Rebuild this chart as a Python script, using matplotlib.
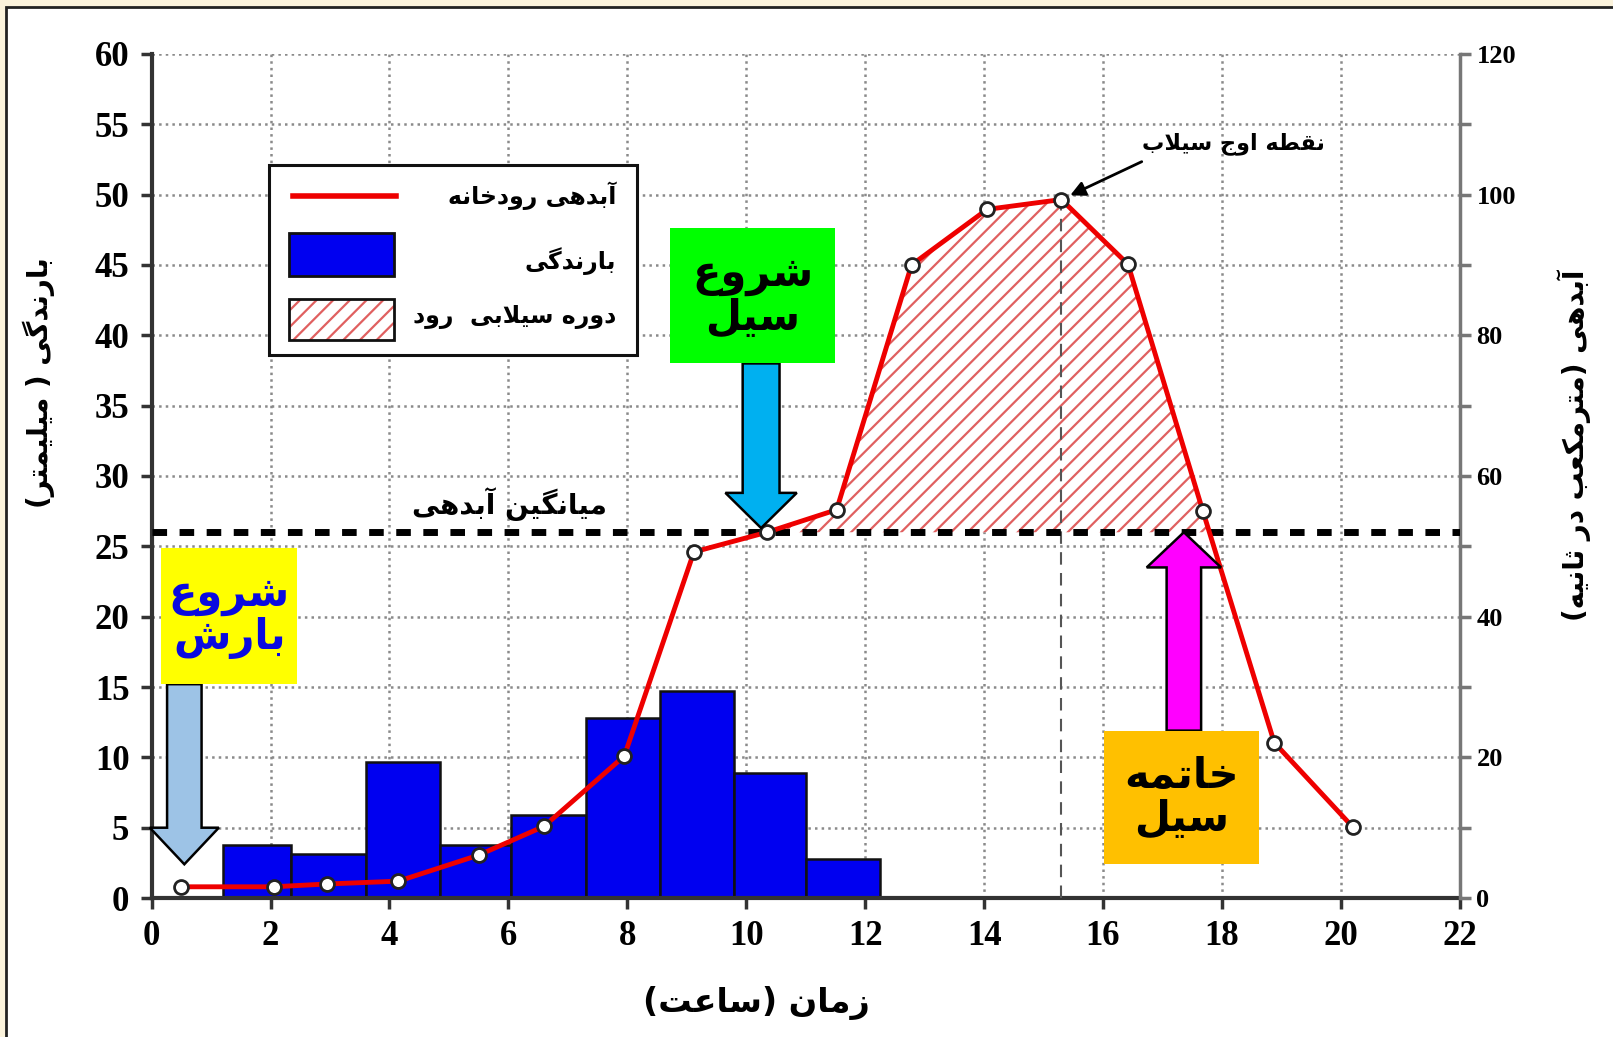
import numpy as np
import matplotlib
matplotlib.use('Agg')
from matplotlib import pyplot as plt
from matplotlib.patches import Rectangle, Polygon
from matplotlib.lines import Line2D

# بارندگی (میلیمتر) - لبه های ستون ها بر حسب ساعت
rain_edges = [1.2, 2.35, 3.6, 4.85, 6.05, 7.3, 8.55, 9.8, 11.0, 12.25]
rain_mm = [3.8, 3.1, 9.7, 3.8, 5.9, 12.8, 14.7, 8.9, 2.8]

# آبدهی رودخانه (مترمکعب در ثانیه)
flow_t = [0.5, 2.05, 2.95, 4.15, 5.5, 6.6, 7.95, 9.12, 10.35, 11.52,
          12.78, 14.05, 15.3, 16.42, 17.68, 18.88, 20.2]
flow_q = [1.6, 1.6, 2.0, 2.4, 6.1, 10.2, 20.2, 49.2, 52.0, 55.2,
          90.0, 97.9, 99.3, 90.1, 55.0, 22.1, 10.1]
mean_q = 52

x_ticks = list(range(0, 23, 2))
rain_ticks = list(range(0, 61, 5))
flow_ticks = list(range(0, 121, 20))

# --- شکل دهی ساده حروف فارسی (matplotlib خودش این کار را نمی کند) ---
FORMS = {
    'ا': ('\uFE8D', '\uFE8E'), 'آ': ('\uFE81', '\uFE82'),
    'د': ('\uFEA9', '\uFEAA'), 'ر': ('\uFEAD', '\uFEAE'),
    'ز': ('\uFEAF', '\uFEB0'), 'و': ('\uFEED', '\uFEEE'),
    'لا': ('\uFEFB', '\uFEFC'),
    'ب': ('\uFE8F', '\uFE90', '\uFE91', '\uFE92'),
    'پ': ('\uFB56', '\uFB57', '\uFB58', '\uFB59'),
    'ت': ('\uFE95', '\uFE96', '\uFE97', '\uFE98'),
    'ث': ('\uFE99', '\uFE9A', '\uFE9B', '\uFE9C'),
    'ج': ('\uFE9D', '\uFE9E', '\uFE9F', '\uFEA0'),
    'خ': ('\uFEA5', '\uFEA6', '\uFEA7', '\uFEA8'),
    'س': ('\uFEB1', '\uFEB2', '\uFEB3', '\uFEB4'),
    'ش': ('\uFEB5', '\uFEB6', '\uFEB7', '\uFEB8'),
    'ط': ('\uFEC1', '\uFEC2', '\uFEC3', '\uFEC4'),
    'ع': ('\uFEC9', '\uFECA', '\uFECB', '\uFECC'),
    'ق': ('\uFED5', '\uFED6', '\uFED7', '\uFED8'),
    'ک': ('\uFB8E', '\uFB8F', '\uFB90', '\uFB91'),
    'گ': ('\uFB92', '\uFB93', '\uFB94', '\uFB95'),
    'ل': ('\uFEDD', '\uFEDE', '\uFEDF', '\uFEE0'),
    'م': ('\uFEE1', '\uFEE2', '\uFEE3', '\uFEE4'),
    'ن': ('\uFEE5', '\uFEE6', '\uFEE7', '\uFEE8'),
    'ه': ('\uFEE9', '\uFEEA', '\uFEEB', '\uFEEC'),
    'ی': ('\uFBFC', '\uFBFD', '\uFBFE', '\uFBFF'),
}
MIRROR = {'(': ')', ')': '('}


def fa(text):
    lines = []
    for line in text.split('\n'):
        toks = []
        i = 0
        while i < len(line):
            if line[i] == 'ل' and i + 1 < len(line) and line[i + 1] == 'ا':
                toks.append('لا')
                i += 2
            else:
                toks.append(line[i])
                i += 1
        out = []
        for k, t in enumerate(toks):
            f = FORMS.get(t)
            if f is None:
                out.append(MIRROR.get(t, t))
                continue
            prev = FORMS.get(toks[k - 1]) if k > 0 else None
            nxt = FORMS.get(toks[k + 1]) if k + 1 < len(toks) else None
            jp = prev is not None and len(prev) == 4
            jn = len(f) == 4 and nxt is not None
            if jp and jn:
                out.append(f[3])
            elif jp:
                out.append(f[1])
            elif jn:
                out.append(f[2])
            else:
                out.append(f[0])
        lines.append(''.join(out[::-1]))
    return '\n'.join(lines)


AR = ['DejaVu Sans']
plt.rcParams['font.family'] = ['Liberation Serif', 'DejaVu Sans']
plt.rcParams['font.weight'] = 'bold'
plt.rcParams['hatch.linewidth'] = 1.6

fig = plt.figure(figsize=(16.13, 10.37), dpi=100)
fig.patch.set_facecolor('#FBF3DC')
fig.add_artist(Rectangle((0.0035, -0.05), 1.1, 1.043, transform=fig.transFigure,
                         facecolor='white', edgecolor='#222222', lw=2, zorder=-10))

ax = fig.add_axes([0.094, 0.134, 0.811, 0.814])
ax2 = ax.twinx()

# ستون های بارندگی
ax.bar(rain_edges[:-1], rain_mm, width=np.diff(rain_edges), align='edge',
       color='#0000F0', edgecolor='#111111', lw=1.8, zorder=2)

ax.set_xlim(0, 22)
ax.set_ylim(0, 60)
ax.set_xticks(x_ticks)
ax.set_yticks(rain_ticks)
ax.set_axisbelow(True)
ax.grid(True, ls=':', color='#8a8a8a', lw=1.8)
ax.tick_params(axis='both', direction='out', length=8, width=2.5, color='#333333',
               labelsize=25, pad=8)
for s in ['top', 'right']:
    ax.spines[s].set_visible(False)
for s in ['left', 'bottom']:
    ax.spines[s].set_color('#333333')
    ax.spines[s].set_linewidth(3)

# هیدروگراف
q = np.array(flow_q)
ax2.fill_between(flow_t, flow_q, mean_q, where=q >= mean_q, interpolate=True,
                 facecolor='white', edgecolor='#E06060', hatch='//', lw=0, zorder=1)
ipk = int(np.argmax(q))
ax2.vlines(flow_t[ipk], 0, flow_q[ipk], colors='#555555', linestyles=(0, (6, 4)),
           lw=1.5, zorder=2)
ax2.axhline(mean_q, color='black', ls=(0, (2.1, 1.8)), lw=5, zorder=3)
ax2.plot(flow_t, flow_q, color='#EE0000', lw=3.5, marker='o', ms=10, mfc='white',
         mec='#222222', mew=2, zorder=5)

ax2.set_ylim(0, 120)
ax2.set_yticks(flow_ticks)
ax2.set_yticks(range(10, 120, 20), minor=True)
ax2.tick_params(axis='y', which='both', direction='out', length=8, width=2.5,
                color='#777777', labelsize=19, pad=4)
for s in ['top', 'left', 'bottom']:
    ax2.spines[s].set_visible(False)
ax2.spines['right'].set_color('#777777')
ax2.spines['right'].set_linewidth(2.5)

# برچسب محورها
fig.text(0.469, 0.033, fa('زمان (ساعت)'), family=AR, fontsize=24, ha='center', va='center')
fig.text(0.024, 0.631, fa('بارندگی ( میلیمتر)'), family=AR, fontsize=20,
         rotation=90, ha='center', va='center')
fig.text(0.976, 0.571, fa('آبدهی (مترمکعب در ثانیه)'), family=AR, fontsize=20,
         rotation=90, ha='center', va='center')

# نوشته ها
ax2.annotate(fa('نقطه اوج سیلاب'), xy=(flow_t[ipk], flow_q[ipk]), xytext=(18.2, 107.2),
             family=AR, fontsize=16, ha='center', va='center', zorder=6,
             arrowprops=dict(arrowstyle='-|>', color='black', lw=2, mutation_scale=22,
                             relpos=(0.07, 0.0), shrinkA=6, shrinkB=7))
ax2.text(6.02, 56.0, fa('میانگین آبدهی'), family=AR, fontsize=20, ha='center',
         va='center', zorder=6)


def up_down_arrow(x, y0, y1, shaft_w, head_w, head_len, color):
    d = np.sign(y1 - y0)
    yb = y1 - d * head_len
    pts = [(x - shaft_w / 2, y0), (x - shaft_w / 2, yb), (x - head_w / 2, yb), (x, y1),
           (x + head_w / 2, yb), (x + shaft_w / 2, yb), (x + shaft_w / 2, y0)]
    ax2.add_patch(Polygon(pts, closed=True, facecolor=color, edgecolor='black',
                          lw=1.8, zorder=7, clip_on=False))


def label_box(x0, x1, y0, y1, color, text, tcolor):
    ax2.add_patch(Rectangle((x0, y0), x1 - x0, y1 - y0, facecolor=color,
                            edgecolor='none', zorder=8, clip_on=False))
    ax2.text((x0 + x1) / 2, (y0 + y1) / 2, fa(text), family=AR, fontsize=30,
             color=tcolor, ha='center', va='center', linespacing=1.0, zorder=9)


label_box(0.16, 2.45, 30.4, 49.7, '#FFFF00', 'شروع\nبارش', '#0A0AE0')
up_down_arrow(0.55, 30.4, 4.8, 0.58, 1.16, 5.2, '#9DC3E6')

label_box(8.71, 11.5, 76.0, 95.2, '#00FF00', 'شروع\nسیل', 'black')
up_down_arrow(10.25, 76.0, 52.6, 0.62, 1.2, 5.0, '#00B0F0')

label_box(16.02, 18.62, 4.8, 23.8, '#FFC000', 'خاتمه\nسیل', 'black')
up_down_arrow(17.36, 23.8, 52.0, 0.58, 1.25, 5.0, '#FF00FF')

# راهنما
T = ax2.transAxes
ax2.add_patch(Rectangle((0.0896, 0.643), 0.2814, 0.225, transform=T, facecolor='white',
                        edgecolor='#111111', lw=2.2, zorder=10))
ax2.add_line(Line2D([0.108, 0.187], [0.832, 0.832], transform=T, color='#EE0000',
                    lw=4, zorder=11))
ax2.add_patch(Rectangle((0.105, 0.737), 0.08, 0.051, transform=T, facecolor='#0000F0',
                        edgecolor='#111111', lw=2, zorder=11))
ax2.add_patch(Rectangle((0.105, 0.661), 0.08, 0.049, transform=T, facecolor='white',
                        edgecolor='#E06060', hatch='//', lw=0, zorder=11))
ax2.add_patch(Rectangle((0.105, 0.661), 0.08, 0.049, transform=T, facecolor='none',
                        edgecolor='#111111', lw=2, zorder=12))
for yy, txt in [(0.832, 'آبدهی رودخانه'), (0.755, 'بارندگی'), (0.688, 'دوره سیلابی  رود')]:
    ax2.text(0.355, yy, fa(txt), transform=T, family=AR, fontsize=17, ha='right',
             va='center', zorder=12)

fig.savefig('out.png', dpi=100, facecolor=fig.get_facecolor())
